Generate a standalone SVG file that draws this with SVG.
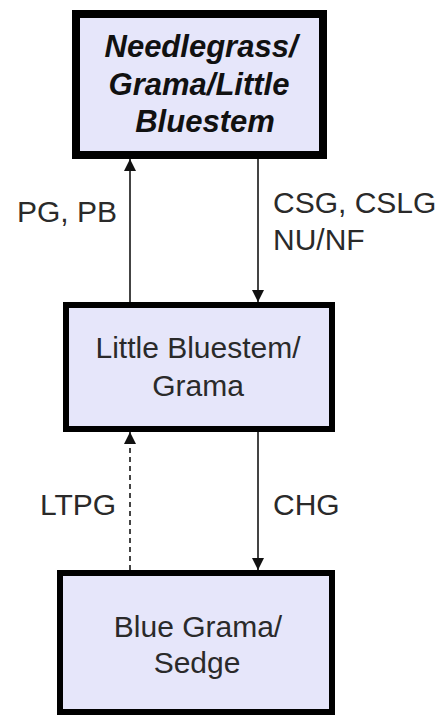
<svg xmlns="http://www.w3.org/2000/svg" width="447" height="716" viewBox="0 0 447 716">
  <style>
    .box { fill: #e6e6fa; stroke: #000; stroke-width: 6; }
    .box.top { stroke-width: 8; }
    .t { font-family: "Liberation Sans", Arial, sans-serif; font-size: 30px; fill: #2a2a2a; }
    .bi { font-weight: bold; font-style: italic; font-size: 31px; fill: #111; }
    .mid { text-anchor: middle; }
    .edge { stroke: #444; stroke-width: 2; fill: none; }
    .dash { stroke-dasharray: 5 4; }
  </style>
  <defs>
    <marker id="arrow" viewBox="0 0 10 10" refX="10" refY="5" markerWidth="6" markerHeight="6" markerUnits="strokeWidth" orient="auto">
      <path d="M0,0 L10,5 L0,10 Z" fill="#111"/>
    </marker>
  </defs>

  <rect width="447" height="716" fill="#fff"/>

  <!-- transitions between states -->
  <g id="connectors">
    <line class="edge" x1="130" y1="302" x2="130" y2="159" marker-end="url(#arrow)"/>
    <line class="edge" x1="258" y1="159" x2="258" y2="302" marker-end="url(#arrow)"/>
    <line class="edge dash" x1="130" y1="570" x2="130" y2="432" marker-end="url(#arrow)"/>
    <line class="edge" x1="258" y1="432" x2="258" y2="570" marker-end="url(#arrow)"/>
    <text class="t" x="17" y="222">PG, PB</text>
    <text class="t" x="273" y="213">CSG, CSLG</text>
    <text class="t" x="273" y="250">NU/NF</text>
    <text class="t" x="40" y="515">LTPG</text>
    <text class="t" x="273" y="515">CHG</text>
  </g>

  <g id="needlegrass">
    <rect class="box top" x="76" y="14" width="247" height="141"/>
    <text class="t bi mid" x="201" y="57">Needlegrass/</text>
    <text class="t bi mid" x="199" y="95">Grama/Little</text>
    <text class="t bi mid" x="205" y="132">Bluestem</text>
  </g>

  <g id="little-bluestem">
    <rect class="box" x="66" y="305" width="266" height="124"/>
    <text class="t mid" x="198" y="358">Little Bluestem/</text>
    <text class="t mid" x="198" y="396">Grama</text>
  </g>

  <g id="blue-grama">
    <rect class="box" x="60" y="573" width="272" height="139"/>
    <text class="t mid" x="198" y="637">Blue Grama/</text>
    <text class="t mid" x="197" y="673">Sedge</text>
  </g>
</svg>
